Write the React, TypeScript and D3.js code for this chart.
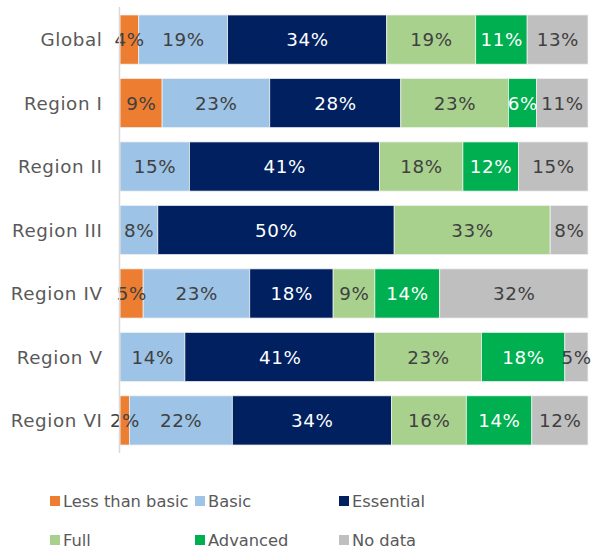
import React from "react";
import * as d3 from "d3";

const categories = ["Global", "Region I", "Region II", "Region III", "Region IV", "Region V", "Region VI"];
const seriesNames = ["Less than basic", "Basic", "Essential", "Full", "Advanced", "No data"];
const lessThanBasic = [4, 9, 0, 0, 5, 0, 2];
const basic = [19, 23, 15, 8, 23, 14, 22];
const essential = [34, 28, 41, 50, 18, 41, 34];
const full = [19, 23, 18, 33, 9, 23, 16];
const advanced = [11, 6, 12, 0, 14, 18, 14];
const noData = [13, 11, 15, 8, 32, 5, 12];

const colors = ["#ED7D31", "#9DC3E6", "#002060", "#A9D18E", "#00B050", "#BFBFBF"];
const labelColors = ["#404040", "#404040", "#ffffff", "#404040", "#ffffff", "#404040"];

export default function App() {
  const W = 593, H = 552;
  const left = 120, right = 588, top = 8, bottom = 452;
  const seriesValues = [lessThanBasic, basic, essential, full, advanced, noData];
  const rows = categories.map((c, i) => {
    const o: any = { cat: c };
    seriesNames.forEach((s, j) => (o[s] = seriesValues[j][i]));
    return o;
  });
  const stacked = d3.stack<any>().keys(seriesNames).offset(d3.stackOffsetExpand)(rows);
  const x = d3.scaleLinear().domain([0, 1]).range([left, right]);
  const y = d3.scaleBand().domain(categories).range([top, bottom]).paddingInner(0.225).paddingOuter(0.11);
  const font = "Verdana, 'DejaVu Sans', sans-serif";
  const ls = 0.6;

  const legendCols = [50, 195, 339];
  const legendRows = [501, 540];

  return (
    <svg width={W} height={H} style={{ position: "absolute", left: 0, top: 0 }}>
      <rect width={W} height={H} fill="#fff" />
      {stacked.map((layer, si) =>
        layer.map((d, i) => {
          const v = seriesValues[si][i];
          if (!v) return null;
          const x0 = x(d[0]), x1 = x(d[1]);
          const yy = y(categories[i])!;
          return (
            <rect key={si + "-" + i} x={x0} y={yy} width={x1 - x0} height={y.bandwidth()} fill={colors[si]} stroke="#f2f2f2" strokeWidth={0.75} />
          );
        })
      )}
      {stacked.map((layer, si) =>
        layer.map((d, i) => {
          const v = seriesValues[si][i];
          if (!v) return null;
          const x0 = x(d[0]), x1 = x(d[1]);
          const yy = y(categories[i])! + y.bandwidth() / 2;
          return (
            <text key={"t" + si + "-" + i} x={(x0 + x1) / 2 + ls / 2} y={yy} dy="0.36em" textAnchor="middle"
              fontFamily={font} fontSize={18.3} letterSpacing={ls} fill={labelColors[si]}>
              {v + "%"}
            </text>
          );
        })
      )}
      <line x1={119.5} x2={119.5} y1={7} y2={453} stroke="#d9d9d9" strokeWidth={1.5} />
      {categories.map((c) => (
        <text key={c} x={102.5} y={y(c)! + y.bandwidth() / 2} dy="0.36em" textAnchor="end"
          fontFamily={font} fontSize={18.3} letterSpacing={ls} fill="#595959">{c}</text>
      ))}
      {seriesNames.map((s, i) => {
        const cx = legendCols[i % 3];
        const cy = legendRows[Math.floor(i / 3)];
        return (
          <g key={s}>
            <rect x={cx} y={cy - 5} width={10} height={10} fill={colors[i]} />
            <text x={cx + 13} y={cy} dy="0.36em" fontFamily={font} fontSize={16.3} fill="#595959">{s}</text>
          </g>
        );
      })}
    </svg>
  );
}
